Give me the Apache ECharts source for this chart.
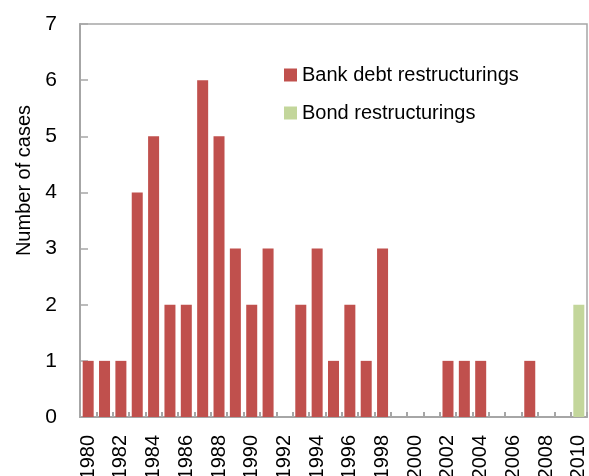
<!DOCTYPE html>
<html>
<head>
<meta charset="utf-8">
<script src="https://cdn.jsdelivr.net/npm/echarts@6/dist/echarts.min.js"></script>
<style>
  html, body { margin: 0; padding: 0; background: #fff; }
  #chart { width: 589px; height: 476px; }
</style>
</head>
<body>
<div id="chart"></div>
<script>
// Years on the category axis
const years = ['1980','1981','1982','1983','1984','1985','1986','1987','1988','1989',
  '1990','1991','1992','1993','1994','1995','1996','1997','1998','1999',
  '2000','2001','2002','2003','2004','2005','2006','2007','2008','2009','2010'];

// Number of cases per year
const bankDebt = [1,1,1,4,5,2,2,6,5,3, 2,3,0,2,3,1,2,1,3,0, 0,0,1,1,1,0,0,1,0,0, null];
const bonds = [null,null,null,null,null,null,null,null,null,null,
  null,null,null,null,null,null,null,null,null,null,
  null,null,null,null,null,null,null,null,null,null, 2];

const FONT = '"Liberation Sans", Arial, sans-serif';
const AXIS_GRAY = '#a6a6a6';

const chart = echarts.init(document.getElementById('chart'), null, { renderer: 'canvas' });
chart.setOption({
  animation: false,
  backgroundColor: '#ffffff',
  textStyle: { fontFamily: FONT, color: '#000' },
  grid: {
    left: 80, right: 2, top: 24, bottom: 59,
    outerBoundsMode: 'none',
    containLabel: false,
    show: true, borderColor: AXIS_GRAY, borderWidth: 1.5, backgroundColor: 'transparent'
  },
  legend: {
    orient: 'vertical',
    left: 284, top: 63,
    padding: 0,
    itemWidth: 13, itemHeight: 13, itemGap: 14,
    icon: 'rect',
    textStyle: { fontFamily: FONT, fontSize: 20, color: '#000', lineHeight: 24, padding: [0, 0, 0, 0] },
    data: ['Bank debt restructurings', 'Bond restructurings']
  },
  xAxis: {
    type: 'category',
    data: years,
    boundaryGap: true,
    axisLine: { lineStyle: { color: AXIS_GRAY, width: 2 } },
    axisTick: { show: true, inside: true, length: 5, interval: 0, lineStyle: { color: AXIS_GRAY, width: 2 } },
    axisLabel: {
      interval: 1, rotate: 90, margin: 18,
      fontFamily: FONT, fontSize: 20, color: '#000'
    },
    splitLine: { show: false }
  },
  yAxis: {
    type: 'value',
    min: 0, max: 7, interval: 1,
    name: 'Number of cases',
    nameLocation: 'middle',
    nameRotate: 90,
    nameGap: 45,
    nameTextStyle: { fontFamily: FONT, fontSize: 20, color: '#000', padding: [0, 0, 0, 80] },
    axisLine: { show: true, lineStyle: { color: AXIS_GRAY, width: 2 } },
    axisTick: { show: true, inside: true, length: 8, lineStyle: { color: AXIS_GRAY, width: 1.5 } },
    axisLabel: { margin: 23, fontFamily: FONT, fontSize: 21, color: '#000' },
    splitLine: { show: false }
  },
  series: [
    {
      name: 'Bank debt restructurings',
      type: 'bar',
      stack: 'cases',
      barWidth: 11,
      itemStyle: { color: '#c0504d' },
      data: bankDebt
    },
    {
      name: 'Bond restructurings',
      type: 'bar',
      stack: 'cases',
      barWidth: 11,
      itemStyle: { color: '#c3d69b' },
      data: bonds
    }
  ]
});
</script>
</body>
</html>
